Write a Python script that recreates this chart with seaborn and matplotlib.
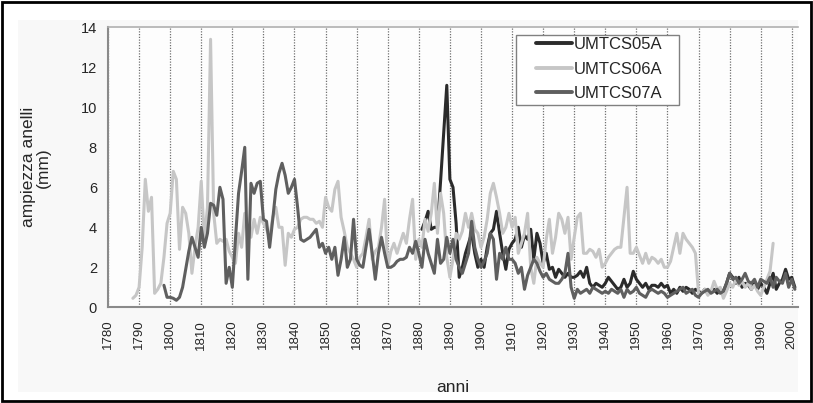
import matplotlib
matplotlib.use("Agg")
import pandas as pd
import matplotlib.pyplot as plt
import seaborn as sns
from matplotlib.patches import Rectangle

# anni e ampiezza anelli (mm)
anni_05 = list(range(1881, 2002))
umtcs05a = [
    3.9, 4.3, 4.8, 3.9, 4.0, 4.0, 6.3, 8.7, 11.1,
    6.4, 6.0, 4.2, 1.5, 2.0, 2.7, 3.2, 3.7, 2.7, 2.0,
    2.4, 2.0, 3.0, 3.7, 3.9, 4.8, 3.7, 2.7, 1.9, 2.9,
    3.2, 3.4, 4.0, 3.0, 3.6, 3.4, 3.9, 2.4, 3.7, 3.2,
    2.2, 2.7, 1.9, 2.0, 1.5, 1.9, 1.7, 1.5, 1.7, 1.5,
    1.5, 1.6, 1.8, 1.5, 2.0, 1.2, 1.0, 1.2, 1.1, 1.0,
    1.2, 1.5, 1.3, 1.1, 0.9, 1.0, 1.4, 1.0, 1.2, 1.8,
    1.4, 1.2, 1.0, 1.2, 0.9, 1.1, 1.1, 1.0, 1.2, 1.0,
    1.1, 0.7, 0.9, 0.7, 1.0, 0.8, 1.0, 0.9, 0.7, 0.9,
    0.8, 0.7, 0.9, 0.7, 0.8, 0.9, 0.7, 0.9, 0.8, 1.2,
    1.7, 1.5, 1.2, 1.5, 1.0, 1.2, 1.1, 0.9, 1.2, 0.9,
    1.2, 1.0, 0.7, 1.2, 1.7, 0.9, 1.2, 1.4, 1.9, 1.4,
    1.5, 1.0,
]

anni_06 = list(range(1788, 1995))
umtcs06a = [
    0.45, 0.6,
    1.0, 3.0, 6.4, 4.8, 5.5, 0.7, 0.9, 1.2, 2.5, 4.2,
    4.7, 6.8, 6.4, 2.9, 5.0, 4.7, 3.7, 1.7, 3.0, 4.0,
    6.3, 3.4, 5.0, 13.4, 4.7, 3.2, 3.4, 3.3, 3.4, 2.8,
    2.5, 2.2, 3.7, 3.0, 4.7, 3.7, 3.5, 4.4, 3.7, 4.5,
    4.2, 3.9, 3.5, 4.5, 5.0, 4.0, 4.0, 2.1, 3.7, 3.5,
    3.9, 4.0, 4.4, 4.5, 4.5, 4.4, 4.4, 4.2, 4.3, 4.0,
    5.5, 5.0, 4.8, 5.9, 6.3, 4.5, 3.8, 3.0, 2.7, 2.4,
    2.0, 2.5, 2.7, 3.5, 4.4, 2.4, 2.8, 3.0, 4.0, 5.4,
    2.0, 2.8, 3.2, 2.7, 3.2, 3.7, 3.2, 4.4, 5.4, 2.4,
    3.4, 3.0, 4.4, 3.8, 4.7, 6.2, 3.7, 5.7, 4.7, 2.5,
    1.5, 2.4, 3.7, 3.4, 3.8, 4.7, 4.0, 4.7, 3.9, 3.7,
    3.0, 3.5, 4.4, 5.7, 6.2, 5.5, 4.7, 3.7, 4.0, 4.7,
    4.0, 4.5, 2.7, 3.2, 3.7, 4.7, 2.0, 1.2, 2.5, 2.2,
    2.0, 3.4, 4.4, 2.7, 3.5, 4.7, 4.4, 3.7, 4.5, 2.4,
    3.5, 4.5, 4.7, 2.7, 2.7, 2.9, 2.8, 2.5, 2.9, 2.0,
    2.2, 2.5, 2.7, 2.9, 3.0, 3.0, 4.5, 6.0, 2.7, 2.7,
    3.0, 2.6, 2.2, 2.7, 2.2, 2.5, 2.4, 2.2, 2.4, 2.0,
    2.0, 2.3, 3.0, 3.7, 2.7, 3.7, 3.4, 3.2, 3.0, 2.7,
    0.7, 0.7, 0.9, 0.6, 0.8, 1.3, 0.9, 1.0, 0.45, 0.8,
    1.2, 1.0, 1.4, 1.1, 1.3, 1.0, 1.2, 0.9, 1.1, 0.8,
    0.6, 1.0, 1.4, 1.8, 3.2,
]

anni_07 = list(range(1798, 2002))
umtcs07a = [
    1.1, 0.5,
    0.5, 0.45, 0.35, 0.5, 1.0, 1.9, 2.8, 3.5, 3.0, 2.5,
    4.0, 3.0, 3.7, 5.2, 5.1, 4.6, 6.0, 5.4, 1.2, 2.0,
    1.0, 3.4, 5.7, 6.8, 8.0, 1.4, 6.2, 5.7, 6.2, 6.3,
    4.4, 4.3, 3.0, 4.4, 5.9, 6.7, 7.2, 6.6, 5.7, 6.0,
    6.4, 5.0, 3.4, 3.3, 3.4, 3.5, 3.7, 3.9, 3.0, 3.2,
    2.7, 3.0, 2.4, 3.0, 1.6, 2.4, 3.5, 2.0, 2.4, 4.4,
    2.4, 2.1, 2.0, 3.0, 3.9, 2.7, 1.4, 2.7, 3.5, 2.7,
    2.0, 2.0, 2.1, 2.3, 2.4, 2.4, 2.5, 3.0, 2.7, 3.3,
    2.7, 2.0, 3.4, 2.7, 2.2, 1.7, 3.4, 2.2, 2.4, 3.5,
    2.7, 3.4, 2.4, 2.0, 1.7, 2.2, 2.7, 4.3, 3.0, 2.4,
    2.0, 2.3, 2.7, 3.7, 3.4, 1.4, 2.7, 2.4, 3.0, 2.4,
    2.4, 2.2, 1.7, 2.0, 0.9, 1.6, 2.0, 2.4, 2.2, 1.8,
    1.5, 1.7, 1.4, 1.3, 1.2, 1.2, 1.4, 1.7, 2.7, 1.0,
    0.45, 0.9, 0.7, 0.8, 0.9, 0.7, 1.0, 0.9, 0.8, 0.7,
    0.8, 0.7, 0.9, 0.8, 0.7, 0.9, 0.5, 0.9, 0.7, 0.8,
    1.0, 0.7, 0.6, 0.5, 0.8, 0.9, 0.8, 0.7, 0.8, 0.7,
    0.5, 0.6, 0.7, 0.8, 0.9, 1.0, 0.7, 0.8, 0.9, 0.6,
    0.5, 0.7, 0.8, 0.9, 0.7, 0.8, 0.9, 0.7, 0.8, 1.2,
    1.7, 1.4, 1.5, 1.2, 1.4, 1.7, 1.3, 1.2, 1.4, 1.0,
    1.4, 1.3, 1.2, 1.5, 1.0, 1.5, 1.3, 1.2, 1.7, 1.0,
    1.4, 0.9,
]

serie = ["UMTCS05A", "UMTCS06A", "UMTCS07A"]
colori = ["#2b2b2b", "#c6c6c6", "#5f5f5f"]
tick_anni = list(range(1780, 2001, 10))
tick_y = list(range(0, 15, 2))

df = pd.concat([
    pd.DataFrame({"anno": anni_05, "ampiezza": umtcs05a, "serie": serie[0]}),
    pd.DataFrame({"anno": anni_06, "ampiezza": umtcs06a, "serie": serie[1]}),
    pd.DataFrame({"anno": anni_07, "ampiezza": umtcs07a, "serie": serie[2]}),
])

sns.set_style("white")
plt.rcParams["font.family"] = ["Liberation Sans", "DejaVu Sans"]

W, H = 813, 403
fig = plt.figure(figsize=(8.13, 4.03), dpi=100)
fig.patch.set_facecolor("white")
# area grafico leggermente grigia + cornice nera
fig.patches.append(Rectangle((18 / W, 1 - 392 / H), 780 / W, 372 / H,
                             transform=fig.transFigure, facecolor="#f8f8f8",
                             edgecolor="none", zorder=-2))
fig.patches.append(Rectangle((0.002, 0.004), 0.996, 0.992, transform=fig.transFigure,
                             fill=False, edgecolor="black", linewidth=2))

ax = fig.add_axes([108 / W, 1 - 307.3 / H, 690 / W, 280 / H])
ax.set_facecolor("#fdfdfd")

sns.lineplot(data=df, x="anno", y="ampiezza", hue="serie", hue_order=serie,
             palette=dict(zip(serie, colori)), linewidth=2.2, estimator=None, ax=ax)

ax.set_xlim(1780, 2002)
ax.set_ylim(0, 14)
ax.set_xticks(tick_anni)
ax.set_xticklabels([str(a) for a in tick_anni], rotation=90, fontsize=9.5)
ax.set_yticks(tick_y)
ax.set_yticklabels([str(v) for v in tick_y], fontsize=10.5)
ax.tick_params(axis="both", direction="out", length=3, width=1, color="#888888", pad=5)
ax.tick_params(axis="x", pad=6)

ax.xaxis.grid(True, linestyle=(0, (1, 1.2)), color="#707070", linewidth=0.9)
ax.yaxis.grid(False)

for s in ["left", "bottom"]:
    ax.spines[s].set_color("#8a8a8a")
    ax.spines[s].set_linewidth(1.5)
ax.spines["top"].set_color("#b0b0b0")
ax.spines["top"].set_linewidth(1.2)
ax.spines["right"].set_visible(False)

ax.set_xlabel("anni", fontsize=12.5, labelpad=22)
ax.set_ylabel("ampiezza anelli\n(mm)", fontsize=12.5, labelpad=21, linespacing=1.05)

# riquadro legenda (pixel 516-679 x 35-105)
box = Rectangle((516 / W, 1 - 105 / H), 163 / W, 70 / H, transform=fig.transFigure,
                facecolor="white", edgecolor="#808080", linewidth=1.0, zorder=4)
fig.patches.append(box)

ax.get_legend().remove()
handles, labels = ax.get_legend_handles_labels()
leg = fig.legend(handles, labels, loc="upper left",
                 bbox_to_anchor=(536 / W, 1 - 37 / H), borderaxespad=0,
                 frameon=False, fontsize=12, handlelength=2.15, handletextpad=0.12,
                 labelspacing=0.58, borderpad=0)
leg.set_zorder(5)
for line in leg.get_lines():
    line.set_linewidth(2.8)

fig.savefig("out.png", dpi=100)
